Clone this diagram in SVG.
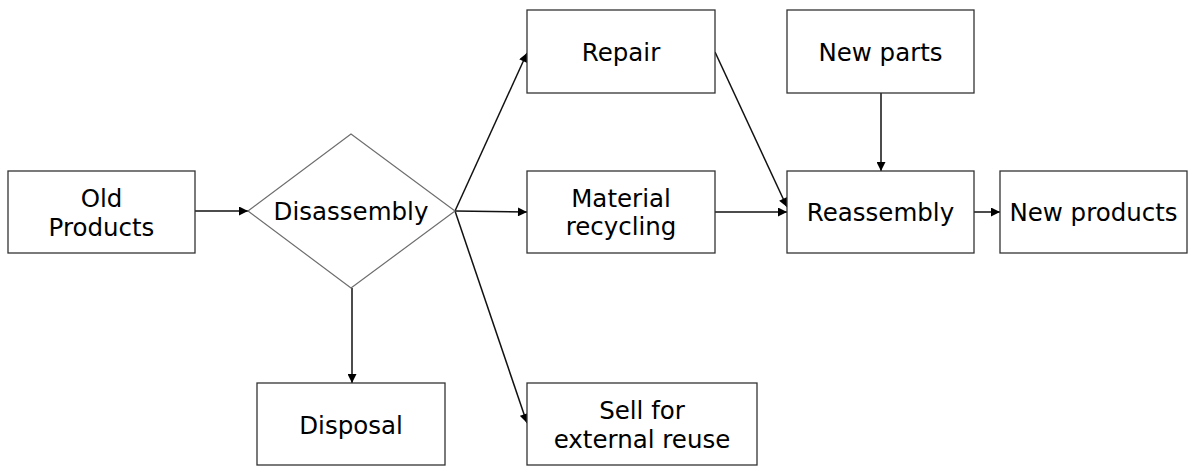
<svg xmlns="http://www.w3.org/2000/svg" width="1190" height="466" viewBox="0 0 1190 466">
  <style>
    .box { fill: #ffffff; stroke: #333333; stroke-width: 1.3; }
    .diamond { fill: #ffffff; stroke: #6e6e6e; stroke-width: 1.2; }
    .label { font-family: "DejaVu Sans", Verdana, sans-serif; font-size: 24.5px; fill: #000000; text-anchor: middle; }
    .edge { fill: none; stroke: #111111; stroke-width: 1.5; marker-end: url(#arrow); }
  </style>
  <defs>
    <marker id="arrow" viewBox="0 0 10 10" refX="10" refY="5" markerWidth="10" markerHeight="9" markerUnits="userSpaceOnUse" orient="auto">
      <path d="M0,0 L10,5 L0,10 Z" fill="#000000"/>
    </marker>
  </defs>
  <rect width="1190" height="466" fill="#ffffff"/>

  <g id="connectors">
    <line class="edge" x1="195" y1="211" x2="248" y2="211"/>
    <line class="edge" x1="455" y1="211" x2="527" y2="53"/>
    <line class="edge" x1="455" y1="211" x2="527" y2="212"/>
    <line class="edge" x1="455" y1="211" x2="527" y2="423"/>
    <line class="edge" x1="352" y1="288" x2="352" y2="383"/>
    <line class="edge" x1="715" y1="52" x2="787" y2="207"/>
    <line class="edge" x1="715" y1="212" x2="787" y2="212"/>
    <line class="edge" x1="881" y1="93" x2="881" y2="171"/>
    <line class="edge" x1="974" y1="212" x2="1000" y2="212"/>
  </g>

  <g id="old-products">
    <rect class="box" x="8" y="171" width="187" height="82"/>
    <text class="label" x="101.5" y="207">Old</text>
    <text class="label" x="101.5" y="236">Products</text>
  </g>

  <g id="disassembly">
    <polygon class="diamond" points="248,211 351,134 455,211 351,288"/>
    <text class="label" x="351" y="220">Disassembly</text>
  </g>

  <g id="repair">
    <rect class="box" x="527" y="10" width="188" height="83"/>
    <text class="label" x="621" y="61">Repair</text>
  </g>

  <g id="material-recycling">
    <rect class="box" x="527" y="171" width="188" height="82"/>
    <text class="label" x="621" y="207">Material</text>
    <text class="label" x="621" y="235">recycling</text>
  </g>

  <g id="new-parts">
    <rect class="box" x="787" y="10" width="187" height="83"/>
    <text class="label" x="880.5" y="61">New parts</text>
  </g>

  <g id="reassembly">
    <rect class="box" x="787" y="171" width="187" height="82"/>
    <text class="label" x="880.5" y="221">Reassembly</text>
  </g>

  <g id="new-products">
    <rect class="box" x="1000" y="171" width="187" height="82"/>
    <text class="label" x="1093.5" y="221">New products</text>
  </g>

  <g id="disposal">
    <rect class="box" x="257" y="383" width="188" height="82"/>
    <text class="label" x="351" y="434">Disposal</text>
  </g>

  <g id="sell-external-reuse">
    <rect class="box" x="527" y="383" width="230" height="82"/>
    <text class="label" x="642" y="419">Sell for</text>
    <text class="label" x="642" y="448">external reuse</text>
  </g>
</svg>
